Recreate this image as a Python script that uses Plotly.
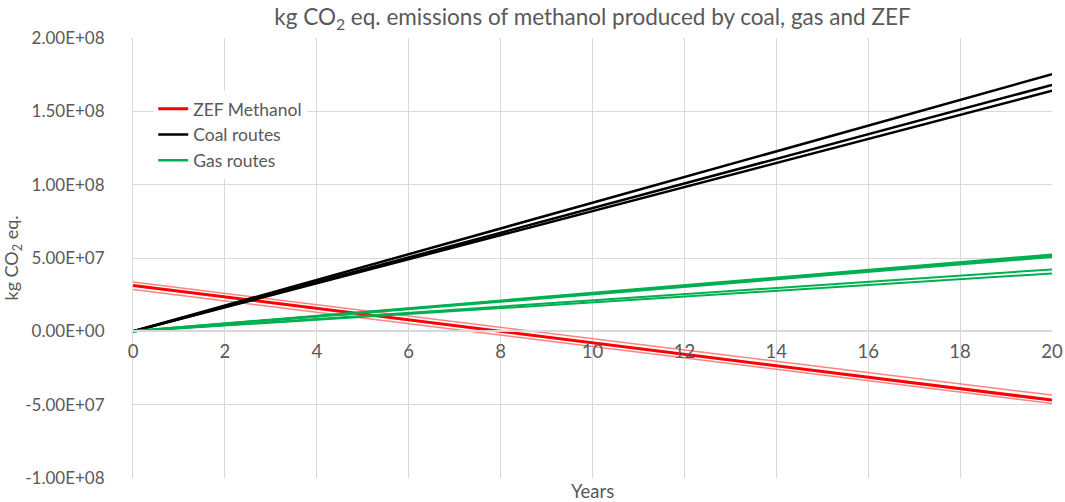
import plotly.graph_objects as go

# Years covered by the comparison (straight-line trends, start and end points)
years = [0, 20]

# ZEF methanol: central estimate and upper/lower bounds (kg CO2 eq.)
zef_mid = [3.13e7, -4.69e7]
zef_upper = [3.36e7, -4.35e7]
zef_lower = [2.86e7, -4.92e7]

# Coal-based methanol routes
coal_a = [0, 1.753e8]
coal_b = [0, 1.680e8]
coal_c = [0, 1.640e8]

# Gas-based methanol routes
gas_a = [0, 5.22e7]
gas_b = [0, 5.08e7]
gas_c = [0, 4.22e7]
gas_d = [0, 3.95e7]

y_tick_vals = [2e8, 1.5e8, 1e8, 5e7, 0, -5e7, -1e8]
y_tick_text = ["2.00E+08", "1.50E+08", "1.00E+08", "5.00E+07",
               "0.00E+00", "-5.00E+07", "-1.00E+08"]
x_tick_vals = [0, 2, 4, 6, 8, 10, 12, 14, 16, 18, 20]

FONT = "Lato"
TEXT = "#595959"
GRID = "#d9d9d9"
RED = "#ff0000"
RED_LIGHT = "rgba(255,90,90,0.75)"
GREEN = "#00b050"

fig = go.Figure()


def add_line(y, color, width, name, group, show):
    fig.add_trace(go.Scatter(
        x=years, y=y, mode="lines", name=name, legendgroup=group,
        showlegend=show, line=dict(color=color, width=width),
        hoverinfo="skip",
    ))


add_line(zef_upper, RED_LIGHT, 1.5, "ZEF Methanol", "zef", False)
add_line(zef_lower, RED_LIGHT, 1.5, "ZEF Methanol", "zef", False)
add_line(zef_mid, RED, 3, "ZEF Methanol", "zef", True)

add_line(coal_a, "black", 2.5, "Coal routes", "coal", True)
add_line(coal_b, "black", 2.5, "Coal routes", "coal", False)
add_line(coal_c, "black", 2.5, "Coal routes", "coal", False)

add_line(gas_a, GREEN, 2.5, "Gas routes", "gas", True)
add_line(gas_b, GREEN, 2.5, "Gas routes", "gas", False)
add_line(gas_c, GREEN, 2, "Gas routes", "gas", False)
add_line(gas_d, GREEN, 2, "Gas routes", "gas", False)

fig.update_layout(
    width=1065, height=502,
    margin=dict(l=133, r=13, t=38, b=24),
    paper_bgcolor="white", plot_bgcolor="white",
    font=dict(family=FONT, color=TEXT, size=18),
    title=dict(
        text="kg CO<sub>2</sub> eq. emissions of methanol produced by coal, gas and ZEF",
        x=0.5, xref="paper", y=1 - 17 / 502, yref="container",
        xanchor="center", yanchor="middle",
        font=dict(family=FONT, size=22.5, color=TEXT),
    ),
    legend=dict(
        x=0.022, y=0.88, xanchor="left", yanchor="top",
        bgcolor="white", borderwidth=0,
        font=dict(family=FONT, size=17.5, color=TEXT),
        tracegroupgap=0, itemwidth=30,
    ),
    xaxis=dict(
        range=[0, 20], tickvals=x_tick_vals,
        showgrid=True, gridcolor=GRID, gridwidth=1,
        zeroline=False, showline=True, linecolor=GRID, linewidth=1.5,
        anchor="free", position=1 / 3, ticks="", ticklabelstandoff=4,
        automargin=False,
        tickfont=dict(family=FONT, size=18.5, color=TEXT),
    ),
    yaxis=dict(
        range=[-1e8, 2e8], tickvals=y_tick_vals, ticktext=y_tick_text,
        showgrid=True, gridcolor=GRID, gridwidth=1,
        zeroline=False, showline=True, linecolor=GRID, linewidth=1,
        ticks="", ticklabelstandoff=24, automargin=False,
        tickfont=dict(family=FONT, size=17, color=TEXT),
        title=dict(text="kg CO<sub>2</sub> eq.", standoff=6,
                   font=dict(family=FONT, size=18, color=TEXT)),
    ),
    annotations=[dict(
        text="Years", x=0.5, xref="paper", y=-(491 - 478) / 440,
        yref="paper", yanchor="middle",
        showarrow=False, font=dict(family=FONT, size=18.5, color=TEXT),
    )],
)

fig.write_html("out.html")
